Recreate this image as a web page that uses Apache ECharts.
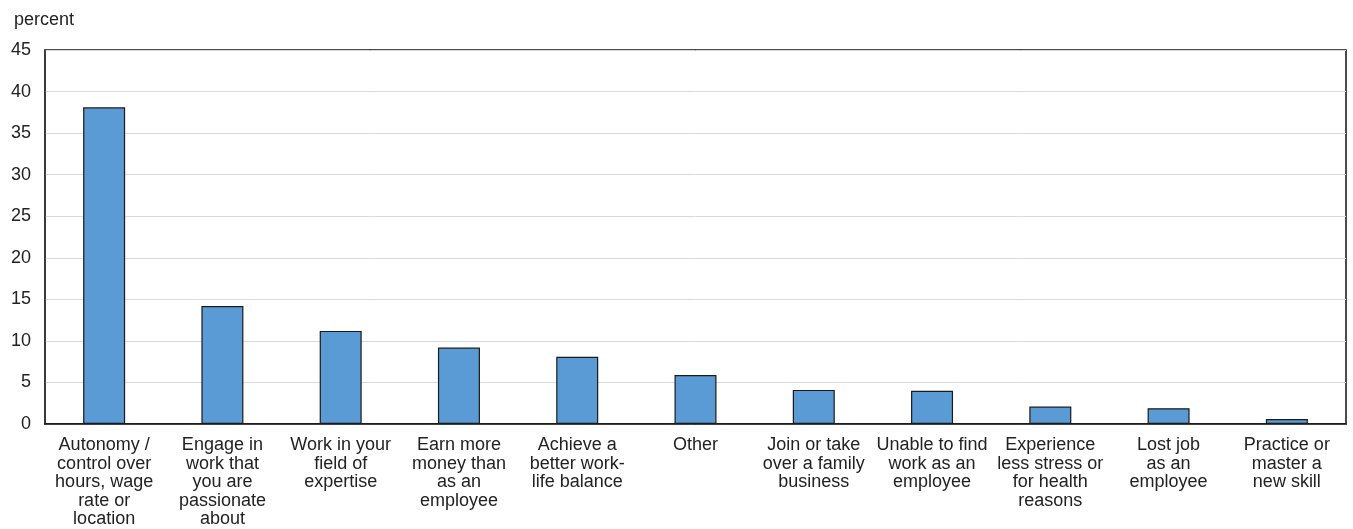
<!DOCTYPE html>
<html>
<head>
<meta charset="utf-8">
<script src="https://cdn.jsdelivr.net/npm/echarts@6/dist/echarts.min.js"></script>
<style>
  html, body { margin: 0; padding: 0; background: #fff; }
  #chart { width: 1353px; height: 529px; }
</style>
</head>
<body>
<div id="chart"></div>
<script>
// categories (line breaks as in the original)
var categories = [
  'Autonomy /\ncontrol over\nhours, wage\nrate or\nlocation',
  'Engage in\nwork that\nyou are\npassionate\nabout',
  'Work in your\nfield of\nexpertise',
  'Earn more\nmoney than\nas an\nemployee',
  'Achieve a\nbetter work-\nlife balance',
  'Other',
  'Join or take\nover a family\nbusiness',
  'Unable to find\nwork as an\nemployee',
  'Experience\nless stress or\nfor health\nreasons',
  'Lost job\nas an\nemployee',
  'Practice or\nmaster a\nnew skill'
];
var percentValues = [38.1, 14.2, 11.2, 9.2, 8.1, 5.9, 4.1, 4.0, 2.1, 1.9, 0.6];

var FONT = '"Liberation Sans Narrow", "Arial Narrow", "Liberation Sans", sans-serif';

var myChart = echarts.init(document.getElementById('chart'));
myChart.setOption({
  animation: false,
  textStyle: { fontFamily: FONT },
  title: {
    text: 'percent',
    left: 9,
    top: 6,
    textStyle: { fontFamily: FONT, fontSize: 18, fontWeight: 'normal', color: '#222' }
  },
  grid: {
    left: 45, right: 7, top: 50, bottom: 105,
    show: true, borderColor: '#111', borderWidth: 1.5
  },
  xAxis: {
    type: 'category',
    data: categories,
    axisLine: { lineStyle: { color: '#111', width: 1.5 } },
    axisTick: { show: false },
    axisLabel: {
      interval: 0,
      margin: 12,
      color: '#222',
      fontFamily: FONT,
      fontSize: 18,
      lineHeight: 18.5,
      align: 'center'
    }
  },
  yAxis: {
    type: 'value',
    min: 0, max: 45, interval: 5,
    axisLine: { show: true, lineStyle: { color: '#333', width: 1.5 } },
    axisTick: { show: false },
    splitLine: { lineStyle: { color: '#d9d9d9', width: 1 } },
    axisLabel: { color: '#222', fontFamily: FONT, fontSize: 18, margin: 14 }
  },
  series: [{
    type: 'bar',
    data: percentValues,
    barWidth: 42,
    itemStyle: { color: '#5b9bd5', borderColor: '#1a1a1a', borderWidth: 1.2 }
  }]
});
</script>
</body>
</html>
